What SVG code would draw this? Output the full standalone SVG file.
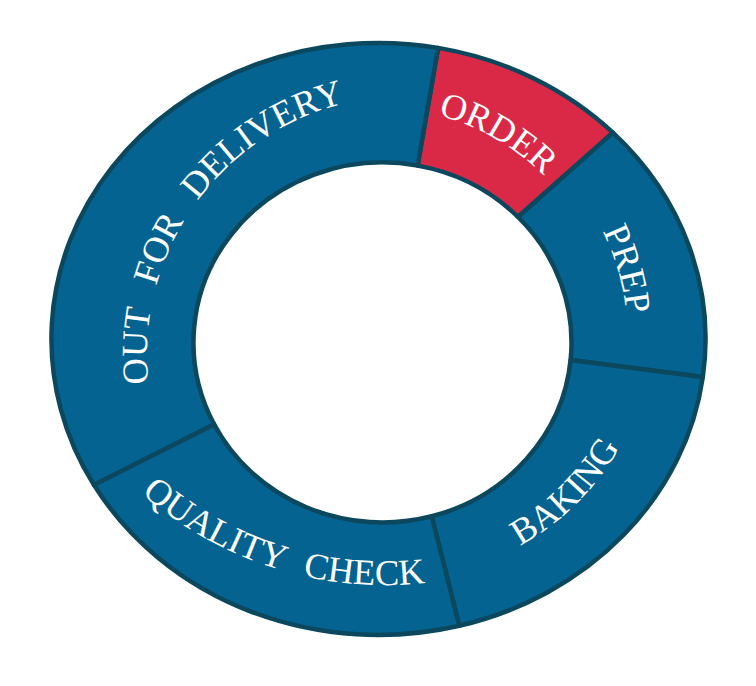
<svg xmlns="http://www.w3.org/2000/svg" xmlns:xlink="http://www.w3.org/1999/xlink" width="756" height="686" viewBox="0 0 756 686">
  <style>
    .seg { stroke: #0B485E; stroke-width: 4.5; stroke-linejoin: round; }
    .blue { fill: #046391; }
    .red { fill: #DA2946; }
    .lbl { font-family: "Liberation Serif", "Times New Roman", serif; font-size: 36.5px; fill: #FFFFFF; }
  </style>
  <defs>
    <path id="pOrder" d="M 201.5 191.8 A 232 232 0 0 1 598.4 418.2"/>
    <path id="pPrep" d="M 354.1 93.4 A 248 248 0 0 1 488.7 562.9"/>
    <path id="pBaking" d="M 245.9 530.6 A 258 258 0 0 0 607.1 173.1"/>
    <path id="pQC" d="M 24.7 295.9 A 369 369 0 0 0 634.3 488.1"/>
    <path id="pOFD" d="M 222.6 537.6 A 258.7 258.7 0 0 1 514.8 120.2"/>
  </defs>
  <rect width="756" height="686" fill="#FFFFFF"/>
  <g id="order">
    <path class="seg red" d="M 438.1 47.9 A 327 296 0 0 1 612.9 132.6 L 518.0 217.0 A 189 180 0 0 0 417.6 165.6 Z"/>
    <text class="lbl"><textPath href="#pOrder" xlink:href="#pOrder" startOffset="50%" text-anchor="middle">ORDER</textPath></text>
  </g>
  <g id="prep">
    <path class="seg blue" d="M 612.9 132.6 A 327 296 0 0 1 702.8 377.1 L 570.6 360.1 A 189 180 0 0 0 518.0 217.0 Z"/>
    <text class="lbl"><textPath href="#pPrep" xlink:href="#pPrep" startOffset="50%" text-anchor="middle">PREP</textPath></text>
  </g>
  <g id="baking">
    <path class="seg blue" d="M 702.8 377.1 A 327 296 0 0 1 459.3 625.8 L 431.7 516.3 A 189 180 0 0 0 570.6 360.1 Z"/>
    <text class="lbl"><textPath href="#pBaking" xlink:href="#pBaking" startOffset="50%" text-anchor="middle">BAKING</textPath></text>
  </g>
  <g id="quality-check">
    <path class="seg blue" d="M 459.3 625.8 A 327 296 0 0 1 93.9 484.8 L 214.1 424.2 A 189 180 0 0 0 431.7 516.3 Z"/>
    <text class="lbl" word-spacing="13"><textPath href="#pQC" xlink:href="#pQC" startOffset="50%" text-anchor="middle">QUALITY CHECK</textPath></text>
  </g>
  <g id="out-for-delivery">
    <path class="seg blue" d="M 93.9 484.8 A 327 296 0 0 1 438.1 47.9 L 417.6 165.6 A 189 180 0 0 0 214.1 424.2 Z"/>
    <text class="lbl" word-spacing="15"><textPath href="#pOFD" xlink:href="#pOFD" startOffset="50%" text-anchor="middle">OUT FOR DELIVERY</textPath></text>
  </g>
  <g id="connectors"/>
</svg>
